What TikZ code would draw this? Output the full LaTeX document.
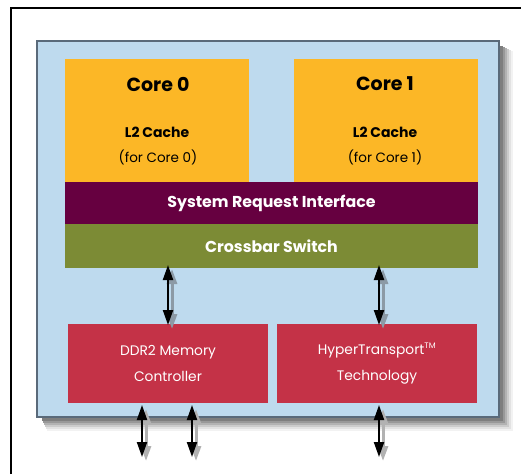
\documentclass[tikz,border=0pt]{standalone}
\usepackage{fontspec}
\setmainfont{Poppins}
\usetikzlibrary{arrows.meta}

\definecolor{chipblue}{HTML}{BEDAEE}
\definecolor{chipedge}{HTML}{5A6A7A}
\definecolor{coreorange}{HTML}{FCB726}
\definecolor{srimaroon}{HTML}{660040}
\definecolor{xbarolive}{HTML}{7C8B35}
\definecolor{iored}{HTML}{C43247}
\definecolor{shadeA}{HTML}{7E7E7E}
\definecolor{shadeB}{HTML}{989898}
\definecolor{shadeC}{HTML}{B2B2B2}
\definecolor{shadeD}{HTML}{CBCBCB}
\definecolor{shadeE}{HTML}{E2E2E2}
\definecolor{shadeF}{HTML}{F2F2F2}
\definecolor{arrowgrey}{HTML}{8C9AA6}

\tikzset{
  block/.style={inner sep=0pt, outer sep=0pt, anchor=north west},
  corebox/.style={block, fill=coreorange},
  iobox/.style={block, fill=iored},
  bustips/.style={{Triangle[length=15pt,width=10pt]}-{Triangle[length=15pt,width=10pt]}},
  busarrow/.style={line width=2pt, bustips},
  arrowshade/.style={line width=3pt, draw=arrowgrey, bustips},
}

\begin{document}
\begin{tikzpicture}[x=1pt, y=-1pt]
  \useasboundingbox (0,0) rectangle (521,474);

  % outer frame, open towards the right and bottom
  \draw[line width=1.6pt] (11,474) -- (11,8) -- (521,8);

  % processor die
  \node[block, minimum width=462pt, minimum height=376pt, fill=chipblue, draw=chipedge, line width=2.5pt]
        (die) at (37,41) {};

  % drop shadow of the die along its right and bottom edges, lightest band outermost
  \fill[shadeF] (47,418.3) rectangle (513,431);
  \fill[shadeF] (500.3,51) rectangle (513,431);
  \fill[shadeE] (46,418.3) rectangle (511,429);
  \fill[shadeE] (500.3,50) rectangle (511,429);
  \fill[shadeD] (45,418.3) rectangle (509,427);
  \fill[shadeD] (500.3,49) rectangle (509,427);
  \fill[shadeC] (44,418.3) rectangle (507,425);
  \fill[shadeC] (500.3,48) rectangle (507,425);
  \fill[shadeB] (43,418.3) rectangle (505,423);
  \fill[shadeB] (500.3,47) rectangle (505,423);
  \fill[shadeA] (42,418.3) rectangle (503,421);
  \fill[shadeA] (500.3,46) rectangle (503,421);

  % cores with their L2 caches
  \node[corebox, minimum width=184pt, minimum height=123pt] (core0) at (65,59) {};
  \node[corebox, minimum width=184pt, minimum height=123pt] (core1) at (294,59) {};
  \node[font=\bfseries\fontsize{19}{21}\selectfont] (c0t) at (158,84) {Core 0};
  \node[font=\bfseries\fontsize{19}{21}\selectfont] (c1t) at (385,84) {Core 1};
  \node[font=\bfseries\fontsize{14}{16}\selectfont] (l20) at (157,132) {L2 Cache};
  \node[font=\bfseries\fontsize{14}{16}\selectfont] (l21) at (385,132) {L2 Cache};
  \node[font=\fontsize{13.5}{15}\selectfont] (f0) at (158,157) {(for Core 0)};
  \node[font=\fontsize{13.5}{15}\selectfont] (f1) at (385,157) {(for Core 1)};

  % shared interconnect
  \node[block, fill=srimaroon, minimum width=413pt, minimum height=42pt] (sri) at (65,182) {};
  \node[text=white, font=\bfseries\fontsize{15.8}{18}\selectfont] (srit) at (sri.center) {System Request Interface};
  \node[block, fill=xbarolive, minimum width=413pt, minimum height=44pt] (xbar) at (65,224) {};
  \node[text=white, font=\bfseries\fontsize{15.8}{18}\selectfont] (xbart) at (xbar.center) {Crossbar Switch};

  % I/O blocks
  \node[iobox, minimum width=200pt, minimum height=79pt] (ddr) at (68,324) {};
  \node[iobox, minimum width=200pt, minimum height=79pt] (ht) at (277,324) {};
  \node[text=white, align=center, font=\fontsize{13.8}{26}\selectfont] (ddrt) at (ddr.center) {DDR2 Memory\\Controller};
  \node[text=white, align=center, font=\fontsize{13.8}{26}\selectfont] (htt) at (ht.center) {HyperTransport\textsuperscript{\fontsize{8}{8}\selectfont TM}\\Technology};

  % arrow end points
  \coordinate (a1) at ([yshift=-1pt]ddr.north);
  \coordinate (a2) at ([xshift=2pt, yshift=-1pt]ht.north);
  \coordinate (a1s) at ([yshift=3pt]a1 |- xbar.south);
  \coordinate (a2s) at ([yshift=3pt]a2 |- xbar.south);
  \coordinate (m0) at (142,405);
  \coordinate (m1) at (192,405);
  \coordinate (h0) at (379,405);
  \coordinate (m0e) at (142,457);
  \coordinate (m1e) at (192,457);
  \coordinate (h0e) at (379,457);

  % arrow shadows, offset right and down
  \draw[arrowshade] ([xshift=4pt,yshift=-4pt]a1s) -- ([xshift=4pt,yshift=-4pt]a1);
  \draw[arrowshade] ([xshift=4pt,yshift=-4pt]a2s) -- ([xshift=4pt,yshift=-4pt]a2);
  \draw[arrowshade, draw=shadeC] ([xshift=4pt,yshift=-4pt]m0) -- ([xshift=4pt,yshift=-4pt]m0e);
  \draw[arrowshade, draw=shadeC] ([xshift=4pt,yshift=-4pt]m1) -- ([xshift=4pt,yshift=-4pt]m1e);
  \draw[arrowshade, draw=shadeC] ([xshift=4pt,yshift=-4pt]h0) -- ([xshift=4pt,yshift=-4pt]h0e);

  % the arrows themselves
  \draw[busarrow] (a1s) -- (a1);
  \draw[busarrow] (a2s) -- (a2);
  \draw[busarrow] (m0) -- (m0e);
  \draw[busarrow] (m1) -- (m1e);
  \draw[busarrow] (h0) -- (h0e);
\end{tikzpicture}
\end{document}
